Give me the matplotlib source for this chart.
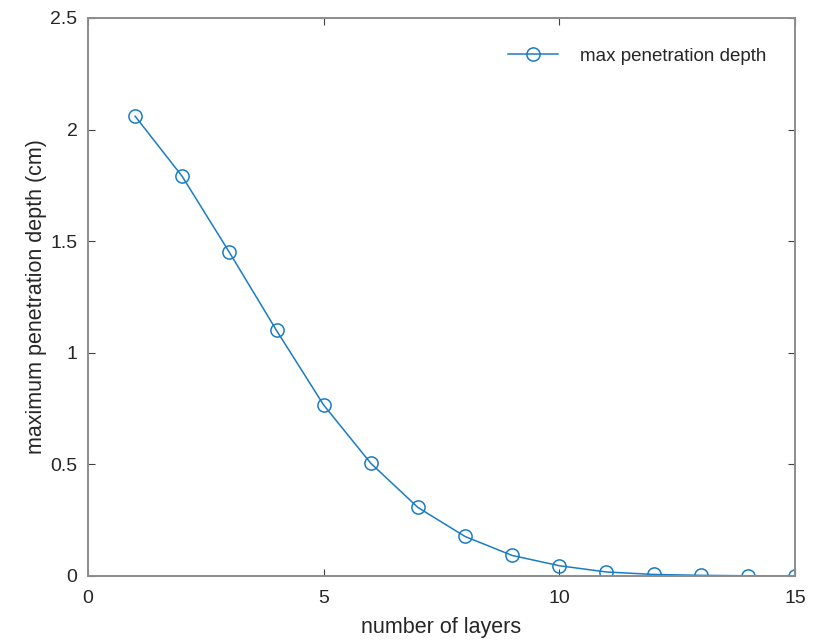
import matplotlib
matplotlib.use('Agg')
import matplotlib.pyplot as plt

# Data
layers = [1, 2, 3, 4, 5, 6, 7, 8, 9, 10, 11, 12, 13, 14, 15]
depth = [2.06, 1.79, 1.45, 1.10, 0.766, 0.505, 0.307, 0.177, 0.092, 0.046,
         0.018, 0.007, 0.003, 0.001, 0.0]

plt.rcParams['font.family'] = ['Liberation Sans', 'DejaVu Sans']

fig = plt.figure(figsize=(8.17, 6.42), dpi=100)
ax = fig.add_axes([88 / 817, 66 / 642, 707 / 817, 558 / 642])

ax.plot(layers, depth, color='#1a7cc4', linewidth=1.1, marker='o',
        markersize=9.5, markerfacecolor='none', markeredgewidth=1.1,
        label='max penetration depth')

ax.set_xlim(0, 15)
ax.set_ylim(0, 2.5)
ax.set_xticks([0, 5, 10, 15])
ax.set_yticks([0, 0.5, 1, 1.5, 2, 2.5])
ax.set_yticklabels(['0', '0.5', '1', '1.5', '2', '2.5'])

for s in ax.spines.values():
    s.set_color('#8c8c8c')
    s.set_linewidth(1.4)
ax.tick_params(direction='in', top=True, right=True, length=5,
               color='#404040', labelcolor='#262626', labelsize=14)
ax.tick_params(axis='x', pad=10)
ax.tick_params(axis='y', pad=7.5)

ax.set_xlabel('number of layers', fontsize=15.5, color='#262626', labelpad=7)
ax.set_ylabel('maximum penetration depth (cm)', fontsize=15.5, color='#262626', labelpad=2.5)

leg = ax.legend(loc='upper right', frameon=False, fontsize=13.5,
                handlelength=2.67, handletextpad=1.17, borderpad=0,
                borderaxespad=0, bbox_to_anchor=(0.959, 0.947))
for t in leg.get_texts():
    t.set_color('#262626')

fig.savefig('out.png', dpi=100, facecolor='white')
